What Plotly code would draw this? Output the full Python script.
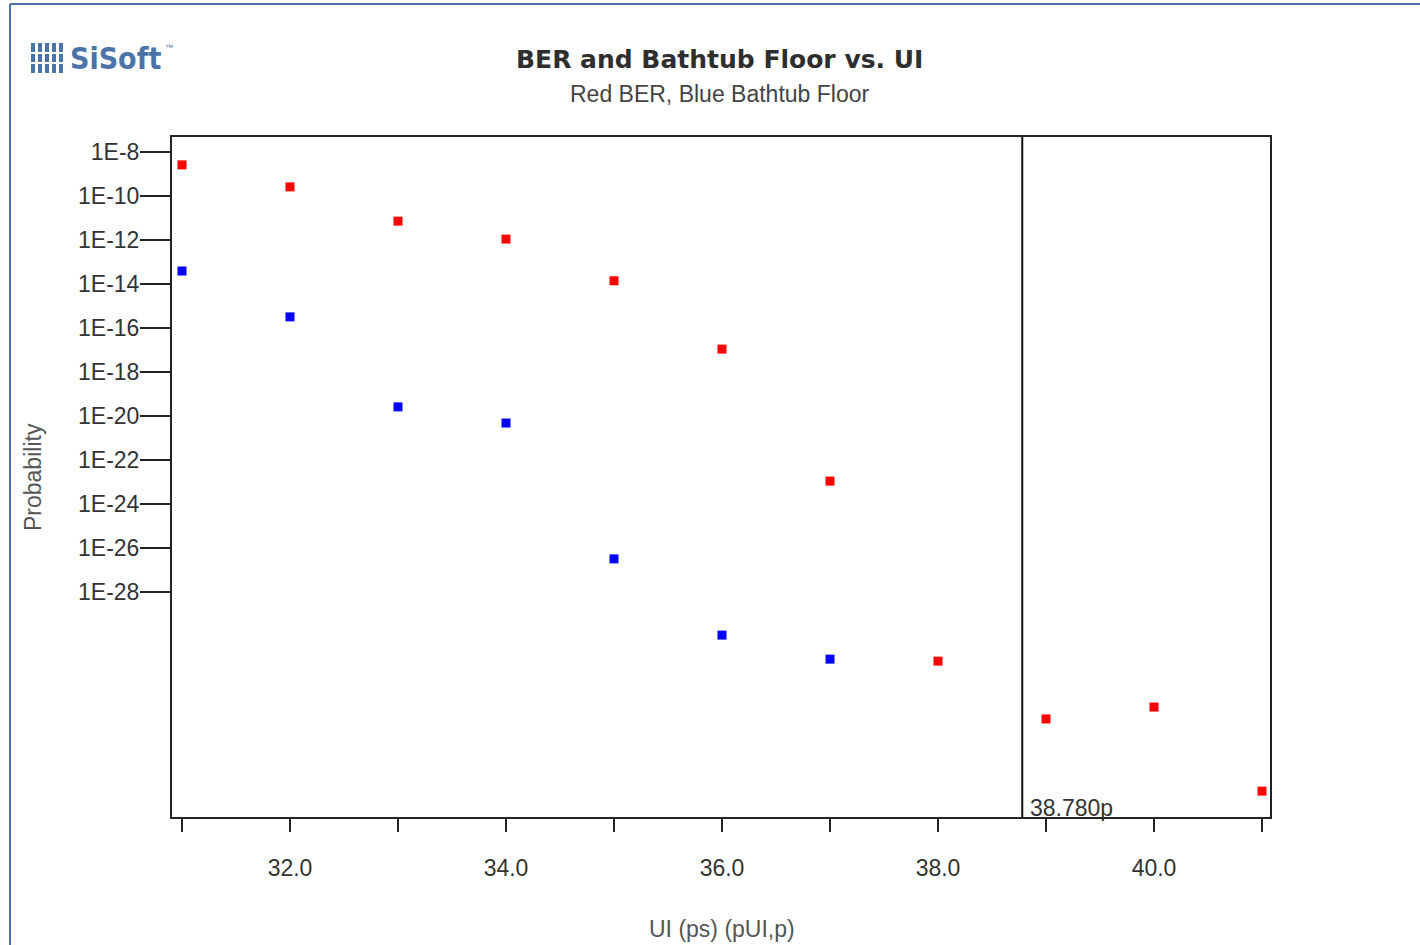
import plotly.graph_objects as go

# ---- data ----
ui_ps = [31, 32, 33, 34, 35, 36, 37, 38, 39, 40, 41]
ber_red = [2.6e-9, 2.6e-10, 7.2e-12, 1.1e-12, 1.4e-14, 1.1e-17, 1.1e-23, 7.2e-32, 1.7e-34, 5.9e-34, 8.9e-38]
ui_blue = [31, 32, 33, 34, 35, 36, 37]
floor_blue = [3.9e-14, 3.2e-16, 2.6e-20, 4.8e-21, 3.2e-27, 1.1e-30, 8.9e-32]
x_tickvals = [32, 34, 36, 38, 40]
x_ticktext = ["32.0", "34.0", "36.0", "38.0", "40.0"]
y_tickvals = [1e-8, 1e-10, 1e-12, 1e-14, 1e-16, 1e-18, 1e-20, 1e-22, 1e-24, 1e-26, 1e-28]
y_ticktext = ["1E-8", "1E-10", "1E-12", "1E-14", "1E-16", "1E-18", "1E-20", "1E-22", "1E-24", "1E-26", "1E-28"]
cursor_x = 38.78
cursor_label = "38.780p"

W, H = 1420, 945
L, R, T, B = 172, 1270, 137, 817


def px2x(px):
    return (px - L) / (R - L)


def px2y(py):
    return (B - py) / (B - T)


FONT = "Liberation Sans, Arial, sans-serif"
TFONT = "DejaVu Sans, Verdana, sans-serif"

fig = go.Figure()
fig.add_trace(go.Scatter(x=ui_ps, y=ber_red, mode="markers",
                         marker=dict(symbol="square", size=9, color="#ff0000"),
                         name="BER", showlegend=False))
fig.add_trace(go.Scatter(x=ui_blue, y=floor_blue, mode="markers",
                         marker=dict(symbol="square", size=9, color="#0000ff"),
                         name="Bathtub Floor", showlegend=False))

fig.update_layout(
    width=W, height=H,
    margin=dict(l=L, r=W - R, t=T, b=H - B, pad=0),
    paper_bgcolor="white", plot_bgcolor="white",
    font=dict(family=FONT, color="#333333"),
    xaxis=dict(
        range=[30.9074, 41.074], showgrid=False, zeroline=False,
        showline=True, linecolor="#222222", linewidth=2, mirror=True,
        tickvals=x_tickvals, ticktext=x_ticktext,
        ticks="outside", ticklen=13, tickwidth=2, tickcolor="#222222",
        ticklabelstandoff=16,
        tickfont=dict(size=23, color="#333333", family=FONT),
        minor=dict(dtick=1, tick0=31, ticks="outside", ticklen=13, tickwidth=2,
                   tickcolor="#222222", showgrid=False),
    ),
    yaxis=dict(
        type="log", range=[-38.227, -7.318], showgrid=False, zeroline=False,
        showline=True, linecolor="#222222", linewidth=2, mirror=True,
        tickvals=y_tickvals, ticktext=y_ticktext,
        ticks="outside", ticklen=30, tickwidth=2, tickcolor="#222222",
        ticklabelstandoff=-4,
        tickfont=dict(size=23, color="#333333", family=FONT),
    ),
)

# cursor line
fig.add_shape(type="line", xref="x", yref="paper", x0=cursor_x, x1=cursor_x, y0=0, y1=1,
              line=dict(color="#111111", width=2))
fig.add_annotation(x=cursor_x, xref="x", y=0, yref="paper", text=cursor_label,
                   showarrow=False, xanchor="left", yanchor="bottom", xshift=6, yshift=-6,
                   font=dict(size=23, color="#333333", family=FONT))

# titles
fig.add_annotation(x=px2x(719), y=px2y(60), xref="paper", yref="paper",
                   text="<b>BER and Bathtub Floor vs. UI</b>", showarrow=False,
                   xanchor="center", yanchor="middle",
                   font=dict(size=25, color="#2e2e2e", family=TFONT))
fig.add_annotation(x=px2x(719), y=px2y(94), xref="paper", yref="paper",
                   text="Red BER, Blue Bathtub Floor", showarrow=False,
                   xanchor="center", yanchor="middle",
                   font=dict(size=23, color="#444444", family=FONT))
# axis titles
fig.add_annotation(x=px2x(33), y=px2y(477), xref="paper", yref="paper",
                   text="Probability", showarrow=False, textangle=-90,
                   xanchor="center", yanchor="middle",
                   font=dict(size=23, color="#555555", family=FONT))
fig.add_annotation(x=px2x(722), y=px2y(929), xref="paper", yref="paper",
                   text="UI (ps) (pUI,p)", showarrow=False,
                   xanchor="center", yanchor="middle",
                   font=dict(size=23, color="#555555", family=FONT))

# logo
fig.add_annotation(x=px2x(68), y=px2y(59), xref="paper", yref="paper",
                   text="<b>SiSoft</b>", showarrow=False, xanchor="left", yanchor="middle",
                   font=dict(size=30, color="#4a74a8", family="DejaVu Sans Condensed, DejaVu Sans"))
fig.add_annotation(x=px2x(163), y=px2y(47), xref="paper", yref="paper",
                   text="™", showarrow=False, xanchor="left", yanchor="middle",
                   font=dict(size=8, color="#4a74a8", family=FONT))
for bx in [31, 38, 45, 52, 59]:
    fig.add_shape(type="rect", xref="paper", yref="paper",
                  x0=px2x(bx), x1=px2x(bx + 4), y0=px2y(73), y1=px2y(43),
                  line=dict(width=0), fillcolor="#4a74a8")
for by in [53, 63]:
    fig.add_shape(type="line", xref="paper", yref="paper",
                  x0=px2x(29), x1=px2x(65), y0=px2y(by), y1=px2y(by),
                  line=dict(color="white", width=2))

# frame border (blue)
fig.add_shape(type="line", xref="paper", yref="paper",
              x0=px2x(10), x1=px2x(1420), y0=px2y(4), y1=px2y(4),
              line=dict(color="#4a74a8", width=2))
fig.add_shape(type="line", xref="paper", yref="paper",
              x0=px2x(10), x1=px2x(10), y0=px2y(4), y1=px2y(945),
              line=dict(color="#4a74a8", width=2))

fig.write_html("out.html")
